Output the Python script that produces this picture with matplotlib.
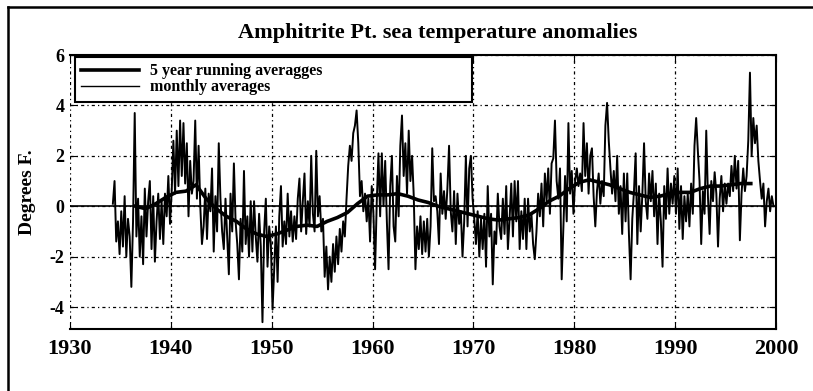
import numpy as np
import matplotlib
matplotlib.use("Agg")
import matplotlib.pyplot as plt
from matplotlib.lines import Line2D

plt.rcParams['font.family'] = ['Liberation Serif', 'DejaVu Serif']
plt.rcParams['font.weight'] = 'bold'
plt.rcParams['axes.labelweight'] = 'bold'

# sea temperature anomaly (deg F), sampled every two months from 1934.25
start_year = 1934.25
anomaly = [
    0.1, 1.0, -1.4, -0.6, -1.9, -0.2,      # 1934
    -1.6, 0.4, -2.0, -0.5, -1.2, -3.2,     # 1935
    -0.6, 3.7, -1.2, 0.3, -2.0, -0.4,      # 1936
    -2.3, 0.7, -1.2, 0.2, 1.0, -1.7,       # 1937
    0.4, -2.2, -0.6, 0.5, -1.3, 0.2,       # 1938
    -1.5, 0.5, -0.4, 1.2, -0.7, 0.6,       # 1939
    2.6, 0.5, 3.0, 0.8, 3.4, 1.2,          # 1940
    3.3, 0.9, 2.5, -0.4, 1.8, 0.5,         # 1941
    1.0, 3.4, 0.3, 2.4, 0.0, -1.5,         # 1942
    -0.8, 0.7, -1.3, 0.5, -0.2, 1.5,       # 1943
    -1.8, 0.4, -1.0, 2.5, 0.3, -1.0,       # 1944
    -1.7, 0.3, -1.2, -2.7, 0.5, -1.0,      # 1945
    1.7, -0.6, -1.5, -2.9, -0.5, -1.8,     # 1946
    1.4, -1.5, -0.4, -2.0, 0.2, -1.8,      # 1947
    0.2, -1.2, -2.2, -0.3, -1.6, -4.6,     # 1948
    -1.0, 0.3, -2.4, -0.8, -1.5, -4.1,     # 1949
    -2.5, -0.8, -3.0, -0.4, 0.8, -1.6,     # 1950
    -0.6, -1.5, 0.5, -1.2, -0.2, -1.4,     # 1951
    -0.4, -1.3, 0.3, 1.1, -1.0, 0.2,       # 1952
    1.3, -1.1, 0.2, -0.8, 2.0, -0.3,       # 1953
    -1.0, 2.2, -0.4, 0.4, -1.0, -0.5,      # 1954
    -2.8, -1.6, -3.3, -2.0, -3.0, -1.5,    # 1955
    -2.6, -1.2, -2.3, -0.9, -1.8, -0.6,    # 1956
    -1.2, 0.3, 1.6, 2.4, 1.8, 2.9,         # 1957
    3.2, 3.8, 2.5, 0.4, 1.0, -0.2,         # 1958
    0.5, -0.6, 0.3, -1.4, 0.8, -0.3,       # 1959
    -2.5, 0.2, 2.1, -0.4, 2.1, 0.0,        # 1960
    1.8, -0.6, -2.5, 0.8, 2.0, -0.8,       # 1961
    -1.4, 1.2, -0.4, 2.4, 3.6, 1.2,        # 1962
    2.5, 0.5, 3.0, 1.0, 2.0, 0.4,          # 1963
    -2.5, -0.8, -1.7, -0.4, -1.9, -0.6,    # 1964
    -1.8, -0.5, -2.0, -0.8, 2.3, 0.2,      # 1965
    0.4, -0.2, -1.5, 1.3, -0.3, 0.6,       # 1966
    -0.5, 0.7, 2.4, -0.2, -1.0, 0.6,       # 1967
    -1.5, 0.5, -0.7, -0.2, -2.0, -0.6,     # 1968
    2.0, -0.8, 1.5, 2.0, 0.3, -0.5,        # 1969
    -1.5, -0.2, -2.0, -0.5, -1.7, -0.3,    # 1970
    -2.4, 0.8, -1.2, -0.3, -3.1, -1.0,     # 1971
    -1.5, 0.5, -0.8, -1.3, 0.3, -1.1,      # 1972
    0.8, -1.7, -0.5, 0.9, -1.2, 1.0,       # 1973
    -0.6, 1.0, -1.7, -0.2, -1.3, 0.3,      # 1974
    -1.7, 0.3, -1.0, -0.3, -1.5, -2.1,     # 1975
    -1.0, 0.5, -0.4, 0.9, -0.8, 1.3,       # 1976
    0.2, 1.5, -0.3, 1.7, 1.9, 3.4,         # 1977
    1.0, 0.3, 1.5, -2.9, -0.8, 1.2,        # 1978
    -0.6, 3.3, 0.5, 1.4, -0.3, 1.0,        # 1979
    1.5, 0.8, 1.3, 0.6, 3.3, 1.2,          # 1980
    2.5, 0.5, 2.0, 2.3, 0.4, -0.8,         # 1981
    0.6, 1.3, 0.1, 1.0, 0.4, 3.2,          # 1982
    4.1, 2.6, 1.5, 0.5, 1.4, 0.2,          # 1983
    2.0, -0.3, 0.8, -1.1, 1.3, -0.6,       # 1984
    1.3, -1.1, -2.9, -0.5, 0.6, 2.1,       # 1985
    -1.5, 0.8, -1.0, 0.5, 2.5, 0.2,        # 1986
    -0.5, 1.3, 0.2, 1.4, -0.4, 0.9,        # 1987
    -1.5, 0.5, -0.6, -2.4, 0.8, -0.5,      # 1988
    1.5, -0.3, 0.9, 0.1, 1.2, -0.3,        # 1989
    1.5, -0.9, 0.8, -1.3, 0.4, -0.6,       # 1990
    0.5, -0.8, 0.9, -0.3, 2.4, 3.5,        # 1991
    2.2, 1.0, -1.5, 0.6, -0.3, 3.0,        # 1992
    0.4, -1.1, 1.0, 0.2, 1.35, 0.5,        # 1993
    -1.6, 0.3, 1.2, -0.2, 0.9, 0.1,        # 1994
    0.9, 0.4, 1.6, 0.6, 2.0, 0.7,          # 1995
    1.8, -1.35, 0.5, 1.5, 0.6, 1.2,        # 1996
    2.6, 5.3, 2.0, 3.5, 2.5, 3.2,          # 1997
    1.8, 1.0, 0.3, 0.9, -0.8, 0.2,         # 1998
    0.7, -0.2, 0.4, 0.0,                   # 1999
]

# 5 year running average, read once a year
avg_years = [1936.5 + i for i in range(62)]
avg_values = [
    0.0, -0.1, 0.1, 0.35, 0.55, 0.6, 0.85, 0.3, -0.1, -0.4,
    -0.6, -0.9, -1.1, -1.2, -1.1, -0.95, -0.8, -0.75, -0.8, -0.6,
    -0.45, -0.25, 0.1, 0.4, 0.45, 0.45, 0.5, 0.4, 0.25, 0.15,
    0.0, -0.1, -0.2, -0.3, -0.4, -0.5, -0.55, -0.5, -0.45, -0.35,
    -0.1, 0.2, 0.4, 0.7, 0.95, 1.05, 0.95, 0.85, 0.7, 0.55,
    0.45, 0.35, 0.4, 0.5, 0.55, 0.55, 0.7, 0.8, 0.8, 0.85,
    0.9, 0.9,
]

years = start_year + np.arange(len(anomaly)) / 6.0
xticks = [1930, 1940, 1950, 1960, 1970, 1980, 1990, 2000]
yticks = [-4, -2, 0, 2, 4, 6]

fig = plt.figure(figsize=(8.13, 3.91), dpi=100)
ax = fig.add_axes([0.0861, 0.1586, 0.8684, 0.7007])

ax.axhline(0, color='black', lw=1.2, zorder=2)
ax.plot(years, anomaly, color='black', lw=1.4, zorder=3, label='monthly averages')
ax.plot(avg_years, avg_values, color='black', lw=2.6, zorder=4,
        label='5 year running averagges')

ax.set_xlim(1930, 2000)
ax.set_ylim(-4.87, 6)
ax.set_xticks(xticks)
ax.set_yticks(yticks)
ax.set_yticklabels(['-4', '-2', '0', '2', '4', '6'])
ax.grid(True, color='black', lw=0.9, linestyle=(0, (2.5, 2.5, 1, 2.5)))
ax.tick_params(axis='x', labelsize=16, length=5, direction='in', top=True, pad=7)
ax.tick_params(axis='y', labelsize=13, length=5, direction='in', right=True, pad=4)
ax.spines['left'].set_visible(False)
for s in ['top', 'right', 'bottom']:
    ax.spines[s].set_linewidth(1.5)

handles = [Line2D([], [], color='black', lw=2.6), Line2D([], [], color='black', lw=1.0)]
leg = ax.legend(handles, ['5 year running averagges', 'monthly averages'],
                loc='upper left', bbox_to_anchor=(0.007, 0.825, 0.562, 0.168),
                mode='expand', fontsize=11.5, frameon=True, fancybox=False,
                framealpha=1, edgecolor='black', borderpad=0.4,
                labelspacing=0.0, handlelength=3.6, handletextpad=0.7,
                borderaxespad=0)
leg.get_frame().set_linewidth(1.5)
leg.set_zorder(10)

ax.set_ylabel('Degrees F.', fontsize=14, fontweight='bold', labelpad=10)
fig.text(0.538, 0.915, 'Amphitrite Pt. sea temperature anomalies',
         ha='center', va='center', fontsize=16, fontweight='bold')

# outer frame of the scanned figure
fig.add_artist(Line2D([0.010, 0.010], [0.0, 0.982], color='black', lw=1.8))
fig.add_artist(Line2D([0.010, 1.0], [0.982, 0.982], color='black', lw=1.8))

fig.savefig('out.png', dpi=100)
